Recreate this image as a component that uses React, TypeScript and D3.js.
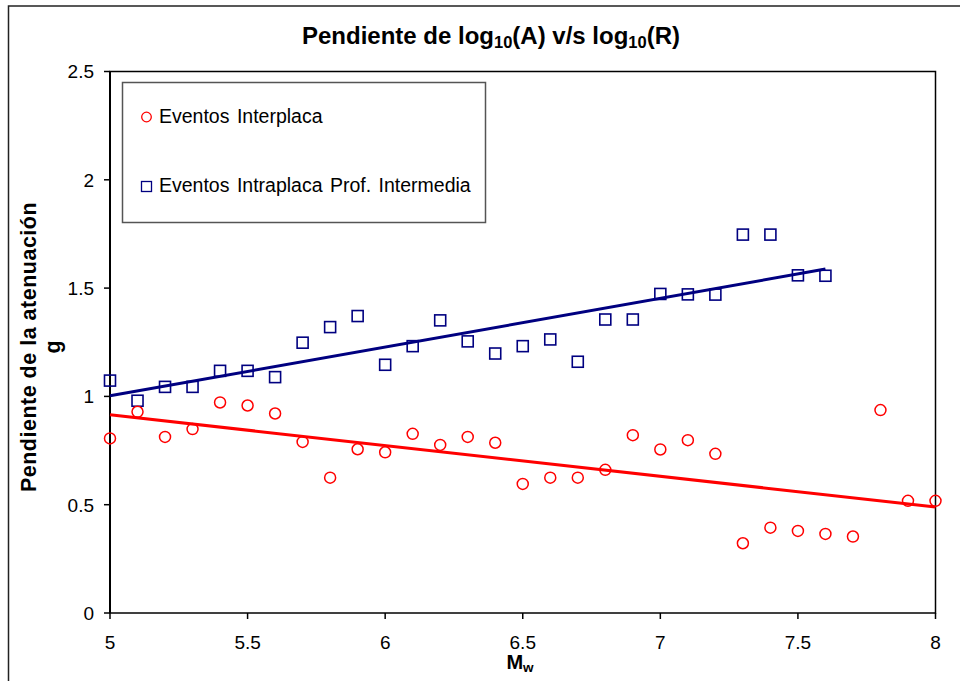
import * as d3 from "d3";
import React from "react";

// Mw values and slope of attenuation
const mwInter = [5.0, 5.1, 5.2, 5.3, 5.4, 5.5, 5.6, 5.7, 5.8, 5.9, 6.0, 6.1, 6.2, 6.3, 6.4, 6.5, 6.6, 6.7, 6.8, 6.9, 7.0, 7.1, 7.2, 7.3, 7.4, 7.5, 7.6, 7.7, 7.8, 7.9, 8.0];
const gInter = [0.806, 0.929, 0.813, 0.849, 0.972, 0.958, 0.921, 0.79, 0.625, 0.756, 0.742, 0.827, 0.776, 0.813, 0.786, 0.596, 0.625, 0.625, 0.661, 0.821, 0.755, 0.798, 0.735, 0.322, 0.394, 0.379, 0.365, 0.353, 0.937, 0.518, 0.518];

const mwIntra = [5.0, 5.1, 5.2, 5.3, 5.4, 5.5, 5.6, 5.7, 5.8, 5.9, 6.0, 6.1, 6.2, 6.3, 6.4, 6.5, 6.6, 6.7, 6.8, 6.9, 7.0, 7.1, 7.2, 7.3, 7.4, 7.5, 7.6];
const gIntra = [1.073, 0.98, 1.044, 1.044, 1.118, 1.118, 1.089, 1.248, 1.32, 1.371, 1.146, 1.232, 1.351, 1.254, 1.198, 1.232, 1.263, 1.16, 1.355, 1.355, 1.473, 1.471, 1.47, 1.747, 1.747, 1.559, 1.557];

const xTicks = [5, 5.5, 6, 6.5, 7, 7.5, 8];
const yTicks = [0, 0.5, 1, 1.5, 2, 2.5];

const legendLabels = ["Eventos Interplaca", "Eventos Intraplaca Prof. Intermedia"];

const RED = "#ff0000";
const NAVY = "#000080";
const FONT = "'Liberation Sans', Arial, sans-serif";

// simple least squares fit
function fit(xs: number[], ys: number[]) {
  const mx = d3.mean(xs)!;
  const my = d3.mean(ys)!;
  let num = 0;
  let den = 0;
  xs.forEach((x, i) => {
    num += (x - mx) * (ys[i] - my);
    den += (x - mx) * (x - mx);
  });
  const b = num / den;
  return (x: number) => my + b * (x - mx);
}

export default function App() {
  const W = 960;
  const H = 681;
  const margin = { top: 71.5, right: 24.5, bottom: 68, left: 110 };
  const width = W - margin.left - margin.right;
  const height = H - margin.top - margin.bottom;

  const x = d3.scaleLinear().domain([5, 8]).range([0, width]);
  const y = d3.scaleLinear().domain([0, 2.5]).range([height, 0]);

  const fInter = fit(mwInter, gInter);
  const fIntra = fit(mwIntra, gIntra);
  const extInter = d3.extent(mwInter) as [number, number];
  const extIntra = d3.extent(mwIntra) as [number, number];

  const line = d3
    .line<number[]>()
    .x((d) => x(d[0]))
    .y((d) => y(d[1]));

  const sq = 11;

  return (
    <svg
      width={W}
      height={H}
      style={{ position: "absolute", left: 0, top: 0, background: "#fff" }}
      fontFamily={FONT}
    >
      {/* chart frame */}
      <rect x={8.5} y={6} width={W} height={H} fill="none" stroke="#222" strokeWidth={1.5} />

      {/* title */}
      <text x={491} y={44} textAnchor="middle" fontSize={24} fontWeight="bold">
        Pendiente de log
        <tspan fontSize={16.5} dy={4}>10</tspan>
        <tspan dy={-4}>(A) v/s log</tspan>
        <tspan fontSize={16.5} dy={4}>10</tspan>
        <tspan dy={-4}>(R)</tspan>
      </text>

      <g transform={`translate(${margin.left}, ${margin.top})`}>
        {/* plot area border */}
        <rect x={0} y={0} width={width} height={height} fill="none" stroke="#000" strokeWidth={1.5} />
        <line x1={0} x2={0} y1={0} y2={height} stroke="#000" strokeWidth={2} />

        {/* y ticks */}
        {yTicks.map((t) => (
          <g key={`yt-${t}`} transform={`translate(0, ${y(t)})`}>
            <line x1={-6} x2={0} stroke="#000" strokeWidth={1.5} />
            <text x={-16} dy="0.36em" textAnchor="end" fontSize={19}>
              {t}
            </text>
          </g>
        ))}

        {/* x ticks */}
        {xTicks.map((t) => (
          <g key={`xt-${t}`} transform={`translate(${x(t)}, ${height})`}>
            <line y1={0} y2={6} stroke="#000" strokeWidth={1.5} />
            <text y={36} textAnchor="middle" fontSize={19}>
              {t}
            </text>
          </g>
        ))}

        {/* trend lines */}
        <path
          d={line(extIntra.map((v) => [v, fIntra(v)]))!}
          fill="none"
          stroke={NAVY}
          strokeWidth={3}
        />
        <path
          d={line(extInter.map((v) => [v, fInter(v)]))!}
          fill="none"
          stroke={RED}
          strokeWidth={3}
        />

        {/* intraplaca squares */}
        {mwIntra.map((m, i) => (
          <rect
            key={`sq-${i}`}
            x={x(m) - sq / 2}
            y={y(gIntra[i]) - sq / 2}
            width={sq}
            height={sq}
            fill="none"
            stroke={NAVY}
            strokeWidth={1.6}
          />
        ))}

        {/* interplaca circles */}
        {mwInter.map((m, i) => (
          <circle
            key={`c-${i}`}
            cx={x(m)}
            cy={y(gInter[i])}
            r={5.5}
            fill="none"
            stroke={RED}
            strokeWidth={1.5}
          />
        ))}
      </g>

      {/* legend */}
      <g>
        <rect x={122.5} y={82.5} width={363} height={140} fill="#fff" stroke="#555" strokeWidth={1.5} />
        <circle cx={146.5} cy={117} r={4.8} fill="none" stroke={RED} strokeWidth={1.3} />
        <text x={159} y={123} fontSize={19.5} wordSpacing={2}>
          {legendLabels[0]}
        </text>
        <rect x={141.5} y={181.5} width={10} height={10} fill="none" stroke={NAVY} strokeWidth={1.3} />
        <text x={159} y={192} fontSize={19.5} wordSpacing={2}>
          {legendLabels[1]}
        </text>
      </g>

      {/* y axis title */}
      <text
        transform="translate(36, 347) rotate(-90)"
        textAnchor="middle"
        fontSize={21.5}
        fontWeight="bold"
        letterSpacing={0.5}
      >
        Pendiente de la atenuación
      </text>
      <text
        transform="translate(60, 347) rotate(-90)"
        textAnchor="middle"
        fontSize={21.5}
        fontWeight="bold"
      >
        g
      </text>

      {/* x axis title */}
      <text x={520} y={669} textAnchor="middle" fontSize={20} fontWeight="bold">
        M<tspan fontSize={13.5} dy={3}>w</tspan>
      </text>
    </svg>
  );
}
